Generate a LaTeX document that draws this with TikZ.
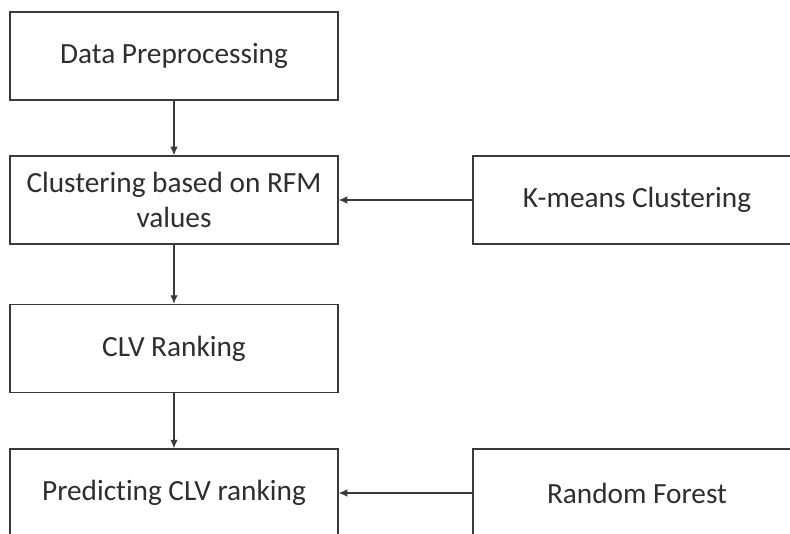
\documentclass[tikz,border=0pt]{standalone}
\usepackage{fontspec}
\setmainfont{Carlito}[Ligatures={NoCommon,NoContextual}]
\usetikzlibrary{arrows.meta}

\definecolor{boxline}{HTML}{3A3A3A}
\definecolor{boxtext}{HTML}{2E2E2E}

\begin{document}
\begin{tikzpicture}[
  x=0.03cm, y=-0.03cm,
  >={Latex[length=2.6mm,width=2.2mm]},
  every node/.style={font=\fontsize{25}{30}\selectfont, text=boxtext},
  stage/.style={draw=boxline, line width=1pt, fill=white, minimum width=9.84cm, minimum height=2.64cm, align=center, inner sep=2pt},
  arrow/.style={->, draw=boxline, line width=1pt}
]
  \useasboundingbox (0,0) rectangle (790,533);
  \clip (0,0) rectangle (790,533);

  \node[stage] (preprocess) at (174,56)    {Data Preprocessing};
  \node[stage] (rfmcluster) at (174,200)   {Clustering based on RFM\\values};
  \node[stage] (clvrank)    at (174,348.5) {CLV Ranking};
  \node[stage] (predict)    at (174,493)   {Predicting CLV ranking};

  \node[stage] (kmeans)     at (637,200)   {K-means Clustering};
  \node[stage] (forest)     at (637,493)   {Random Forest};

  \draw[arrow] (preprocess) -- (rfmcluster);
  \draw[arrow] (rfmcluster) -- (clvrank);
  \draw[arrow] (clvrank) -- (predict);
  \draw[arrow] (kmeans) -- (rfmcluster);
  \draw[arrow] (forest) -- (predict);
\end{tikzpicture}
\end{document}
